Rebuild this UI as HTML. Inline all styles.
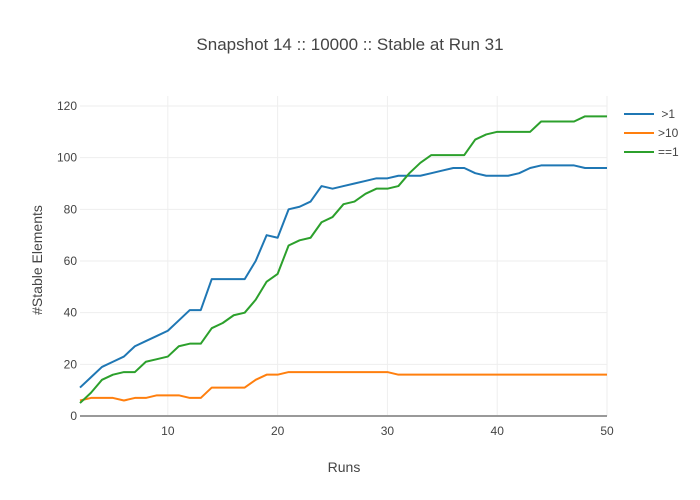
<!DOCTYPE html>
<html><head><meta charset="utf-8"><style>
body{margin:0;background:#fff;}
svg{display:block;font-family:"Liberation Sans",sans-serif;}
</style></head><body>
<svg id="chart" width="700" height="500">
<text x="350" y="50" text-anchor="middle" font-size="17" fill="#444">Snapshot 14 :: 10000 :: Stable at Run 31</text>
<g id="grid"></g>
<g id="series"></g>
<text x="344" y="472" text-anchor="middle" font-size="14" fill="#444">Runs</text>
<text transform="translate(42,260) rotate(-90)" text-anchor="middle" font-size="14" fill="#444">#Stable Elements</text>
<g id="legend"></g>
</svg>
<script>
const runs = Array.from({length:49},(_,i)=>i+2);
const gt1 = [11,15,19,21,23,27,29,31,33,37,41,41,53,53,53,53,60,70,69,80,81,83,89,88,89,90,91,92,92,93,93,93,94,95,96,96,94,93,93,93,94,96,97,97,97,97,96,96,96];
const gt10 = [6,7,7,7,6,7,7,8,8,8,7,7,11,11,11,11,14,16,16,17,17,17,17,17,17,17,17,17,17,16,16,16,16,16,16,16,16,16,16,16,16,16,16,16,16,16,16,16,16];
const eq1 = [5,9,14,16,17,17,21,22,23,27,28,28,34,36,39,40,45,52,55,66,68,69,75,77,82,83,86,88,88,89,94,98,101,101,101,101,107,109,110,110,110,110,114,114,114,114,116,116,116];
const seriesNames = [" >1",">10","==1"];
const seriesColors = ["#1f77b4","#ff7f0e","#2ca02c"];
const xTicks = [10,20,30,40,50];
const yTicks = [0,20,40,60,80,100,120];
const NS="http://www.w3.org/2000/svg";
const X0=80,X1=607,Y0=416,Y1=106;
const xs=v=>X0+(v-2)/(50-2)*(X1-X0);
const ys=v=>Y0-v/120*(Y0-Y1);
const grid=document.getElementById('grid');
function mk(tag,attrs,parent){const e=document.createElementNS(NS,tag);for(const k in attrs)e.setAttribute(k,attrs[k]);parent.appendChild(e);return e;}
yTicks.forEach(t=>{
  if(t>0){const l=mk('line',{x1:X0,x2:X1,y1:ys(t),y2:ys(t),stroke:'#eee','stroke-width':1},grid);
  
  }
  const tx=mk('text',{x:X0-3,y:ys(t)+4,'text-anchor':'end','font-size':12,fill:'#444'},grid);
  tx.textContent=t;
  
  
});
xTicks.forEach(t=>{
  const l=mk('line',{x1:xs(t),x2:xs(t),y1:Y1-10,y2:Y0,stroke:'#eee','stroke-width':1},grid);
  
  
  const tx=mk('text',{x:xs(t),y:Y0+19,'text-anchor':'middle','font-size':12,fill:'#444'},grid);
  tx.textContent=t;
  
  
});
const zl=mk('line',{x1:X0,x2:X1,y1:Y0,y2:Y0,stroke:'#999','stroke-width':2},grid);


const data=[gt1,gt10,eq1];
const sg=document.getElementById('series');
const lg=document.getElementById('legend');
data.forEach((d,i)=>{
  const p=mk('polyline',{points:d.map((v,j)=>xs(runs[j])+','+ys(v)).join(' '),fill:'none',stroke:seriesColors[i],'stroke-width':2,'stroke-linejoin':'round'},sg);
  
  
  const y=114+i*19;
  const g=mk('g',{},lg);
  
  
  mk('line',{x1:624,x2:654,y1:y,y2:y,stroke:seriesColors[i],'stroke-width':2},g);
  const t=mk('text',{x:658,y:y+4,'font-size':12,fill:'#444',style:'white-space:pre'},g);
  t.textContent=seriesNames[i];
});
</script>
</body></html>
